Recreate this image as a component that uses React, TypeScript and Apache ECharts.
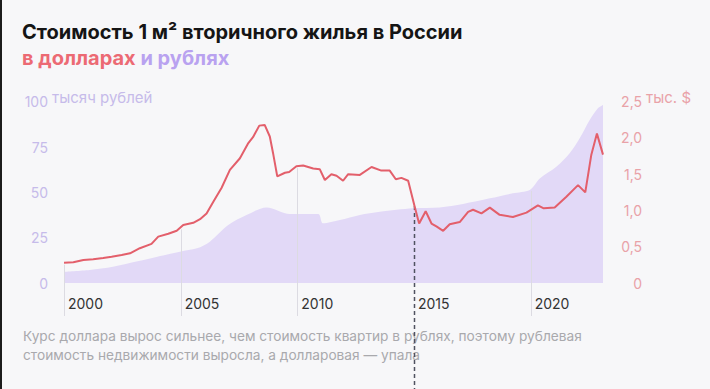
import React, { useEffect, useRef } from 'react';
import * as echarts from 'echarts';

// Price of 1 m² in thousand US dollars (right axis)
const usdYears = [
  2000.0, 2000.4, 2000.83, 2001.25, 2001.68, 2002.04, 2002.47, 2002.83, 2003.25, 2003.75,
  2004.04, 2004.47, 2004.83, 2005.11, 2005.54, 2005.83, 2006.11, 2006.4, 2006.75, 2007.11,
  2007.54, 2007.9, 2008.1, 2008.37, 2008.6, 2008.82, 2008.96, 2009.14, 2009.47, 2009.65,
  2009.96, 2010.25, 2010.68, 2010.96, 2011.18, 2011.46, 2011.68, 2011.96, 2012.18, 2012.68,
  2013.18, 2013.6, 2013.96, 2014.22, 2014.46, 2014.75, 2015.03, 2015.22, 2015.5, 2015.75,
  2015.96, 2016.25, 2016.53, 2016.96, 2017.32, 2017.53, 2017.89, 2018.25, 2018.67, 2019.24,
  2019.82, 2020.31, 2020.56, 2021.03, 2021.53, 2022.03, 2022.34, 2022.6, 2022.84, 2023.1,
];
const usdValues = [
  0.28, 0.285, 0.317, 0.327, 0.345, 0.363, 0.386, 0.41, 0.48, 0.54,
  0.64, 0.68, 0.72, 0.8, 0.83, 0.88, 0.96, 1.12, 1.31, 1.56,
  1.72, 1.93, 2.01, 2.17, 2.18, 2.02, 1.79, 1.47, 1.52, 1.53,
  1.61, 1.62, 1.58, 1.57, 1.42, 1.5, 1.48, 1.41, 1.5, 1.49,
  1.6, 1.55, 1.55, 1.43, 1.45, 1.41, 1.05, 0.82, 0.99, 0.82,
  0.78, 0.72, 0.81, 0.84, 0.98, 1.01, 0.96, 1.04, 0.94, 0.91,
  0.97, 1.07, 1.03, 1.04, 1.19, 1.35, 1.25, 1.77, 2.06, 1.77,
];

// Price of 1 m² in thousand rubles (left axis)
const rubYears = [
  2000.0, 2001.1, 2002.1, 2003.1, 2004.0, 2004.97, 2005.7, 2006.25, 2007.04, 2007.82,
  2008.68, 2009.68, 2010.9, 2011.1, 2011.82, 2012.68, 2013.53, 2014.96, 2016.1, 2017.1,
  2018.25, 2019.24, 2019.96, 2020.39, 2021.1, 2021.67, 2022.1, 2022.53, 2022.88, 2023.1,
];
const rubValues = [
  6.2, 7.2, 9.0, 11.8, 14.5, 17.3, 19.1, 22.8, 32.0, 37.5,
  41.7, 38.1, 38.1, 32.9, 34.7, 37.5, 39.3, 41.2, 41.7, 43.6,
  46.7, 49.5, 51.3, 57.7, 64.1, 71.5, 79.8, 89.9, 96.4, 98.2,
];

const markYears = [2000, 2005, 2010, 2020];
const dashedYear = 2015;

const titleText = 'Стоимость 1 м² вторичного жилья в России';
const subtitleUsd = 'в долларах';
const subtitleRub = 'и рублях';
const leftUnit = 'тысяч рублей';
const rightUnit = 'тыс. $';
const captionLines = [
  'Курс доллара вырос сильнее, чем стоимость квартир в рублях, поэтому рублевая',
  'стоимость недвижимости выросла, а долларовая — упала',
];

const RED = '#e35f6b';
const AREA = '#e2d9f7';
const LEFT_LABEL = '#c6bbea';
const RIGHT_LABEL = '#e9a2a8';
const FONT = 'Inter, "Noto Sans", sans-serif';

function interp(xs: number[], ys: number[], x: number): number {
  if (x <= xs[0]) return ys[0];
  for (let i = 1; i < xs.length; i++) {
    if (x <= xs[i]) {
      const t = (x - xs[i - 1]) / (xs[i] - xs[i - 1]);
      return ys[i - 1] + t * (ys[i] - ys[i - 1]);
    }
  }
  return ys[ys.length - 1];
}

export default function App() {
  const ref = useRef<HTMLDivElement>(null);

  useEffect(() => {
    const chart = echarts.init(ref.current!, undefined, { renderer: 'svg' });
    const option: any = {
      animation: false,
      backgroundColor: '#f7f7f9',
      grid: { left: 64, right: 107, top: 101.7, bottom: 106, containLabel: false },
      xAxis: {
        type: 'value',
        min: 2000,
        max: 2023.1,
        interval: 5,
        axisLine: { show: false },
        axisTick: { show: false },
        splitLine: { show: false },
        axisLabel: {
          showMaxLabel: false,
          color: '#333',
          fontSize: 14,
          fontFamily: FONT,
          align: 'left',
          margin: 13,
          padding: [0, 0, 0, 4],
          formatter: (v: number) => (v % 5 === 0 ? String(v) : ''),
        },
      },
      yAxis: [
        {
          type: 'value',
          min: 0,
          max: 100,
          interval: 25,
          position: 'left',
          axisLine: { show: false },
          axisTick: { show: false },
          splitLine: { show: false },
          axisLabel: {
            color: LEFT_LABEL,
            fontSize: 14,
            fontFamily: FONT,
            margin: 16,
            verticalAlign: 'middle',
            padding: [0, 0, 8, 0],
          },
        },
        {
          type: 'value',
          min: 0,
          max: 2.5,
          interval: 0.5,
          position: 'right',
          axisLine: { show: false },
          axisTick: { show: false },
          splitLine: { show: false },
          axisLabel: {
            color: RIGHT_LABEL,
            fontSize: 14,
            fontFamily: FONT,
            align: 'right',
            margin: 39,
            verticalAlign: 'middle',
            padding: [0, 0, 8, 0],
            formatter: (v: number) => (v === 0 ? '0' : v.toFixed(1).replace('.', ',')),
          },
        },
      ],
      series: [
        {
          type: 'line',
          name: 'rub',
          yAxisIndex: 0,
          data: rubYears.map((y, i) => [y, rubValues[i]]),
          showSymbol: false,
          smooth: 0.3,
          lineStyle: { width: 0 },
          areaStyle: { color: AREA, opacity: 1 },
          z: 2,
        },
        {
          type: 'line',
          name: 'usd',
          yAxisIndex: 1,
          data: usdYears.map((y, i) => [y, usdValues[i]]),
          showSymbol: false,
          lineStyle: { width: 2, color: RED },
          itemStyle: { color: RED },
          z: 5,
        },
      ],
    };
    chart.setOption(option);

    const graphics: any[] = [];
    // left dark border of the picture
    graphics.push({ type: 'rect', shape: { x: 0, y: 0, width: 2, height: 389 }, style: { fill: '#1c1c1c' }, z: 10 });

    const topOf = (yr: number) => {
      const yu = chart.convertToPixel({ yAxisIndex: 1 }, interp(usdYears, usdValues, yr)) as number;
      const yr2 = chart.convertToPixel({ yAxisIndex: 0 }, interp(rubYears, rubValues, yr)) as number;
      return Math.min(yu, yr2);
    };
    for (const yr of markYears) {
      const px = Math.round(chart.convertToPixel({ xAxisIndex: 0 }, yr) as number) + 0.5;
      graphics.push({
        type: 'line',
        z: 3,
        shape: { x1: px, y1: topOf(yr) + 2, x2: px, y2: 316 },
        style: { stroke: '#dcdbe2', lineWidth: 1 },
      });
    }
    {
      const px = Math.round(chart.convertToPixel({ xAxisIndex: 0 }, dashedYear) as number) + 0.5;
      graphics.push({
        type: 'line',
        z: 4,
        shape: { x1: px, y1: topOf(dashedYear) + 2, x2: px, y2: 389 },
        style: { stroke: '#4f5260', lineWidth: 1.5, lineDash: [4, 3] },
      });
    }
    const y100 = chart.convertToPixel({ yAxisIndex: 0 }, 100) as number;
    const xLeft = chart.convertToPixel({ xAxisIndex: 0 }, 2000) as number;
    const xRight = chart.convertToPixel({ xAxisIndex: 0 }, 2023.1) as number;
    graphics.push({
      type: 'text',
      x: xLeft - 16 + 4,
      y: y100 - 4,
      style: { text: leftUnit, fill: LEFT_LABEL, font: `15px ${FONT}`, textAlign: 'left', textVerticalAlign: 'middle' },
    });
    graphics.push({
      type: 'text',
      x: xRight + 39 + 4,
      y: y100 - 4,
      style: { text: rightUnit, fill: RIGHT_LABEL, font: `15px ${FONT}`, textAlign: 'left', textVerticalAlign: 'middle' },
    });
    graphics.push({
      type: 'text',
      x: 22,
      y: 32,
      style: { text: titleText, fill: '#151515', font: `bold 20px ${FONT}`, textAlign: 'left', textVerticalAlign: 'middle' },
    });
    graphics.push({
      type: 'text',
      x: 22,
      y: 58,
      style: {
        text: `{a|${subtitleUsd}} {b|${subtitleRub}}`,
        font: `bold 20px ${FONT}`,
        textAlign: 'left',
        textVerticalAlign: 'middle',
        rich: {
          a: { fill: '#ec6a74', font: `bold 20px ${FONT}` },
          b: { fill: '#b9a2f0', font: `bold 20px ${FONT}` },
        },
      },
    });
    captionLines.forEach((line, i) => {
      graphics.push({
        type: 'text',
        x: 23,
        y: 336 + i * 19,
        style: { text: line, fill: '#a9a9ad', font: `13.7px ${FONT}`, textAlign: 'left', textVerticalAlign: 'middle' },
      });
    });
    chart.setOption({ graphic: graphics });

    return () => chart.dispose();
  }, []);

  return (
    <div
      ref={ref}
      style={{ position: 'fixed', left: 0, top: 0, width: 710, height: 389, background: '#f7f7f9' }}
    />
  );
}
